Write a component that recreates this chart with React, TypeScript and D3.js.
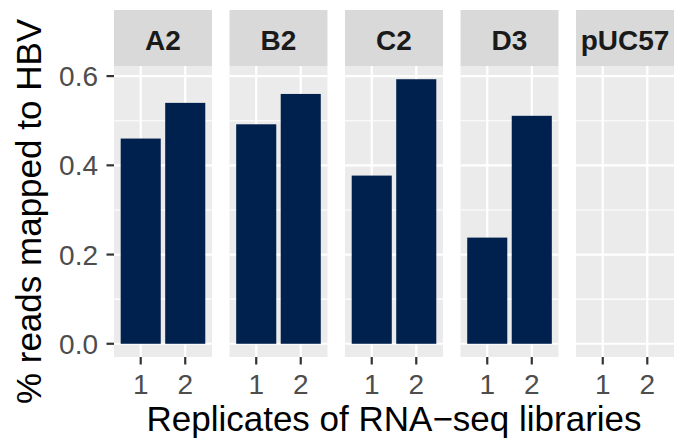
import React, { useEffect, useRef } from 'react';
import * as d3 from 'd3';

// data
const strains = ['A2', 'B2', 'C2', 'D3', 'pUC57'];
const replicates = ['1', '2'];
const rep1 = [0.46, 0.492, 0.377, 0.238, 0];
const rep2 = [0.54, 0.56, 0.593, 0.511, 0];
const yTicks = [0, 0.2, 0.4, 0.6];
const yMinor = [0.1, 0.3, 0.5];

export default function App() {
  const ref = useRef<SVGSVGElement>(null);

  useEffect(() => {
    if (!ref.current) return;
    const width = 675;
    const height = 446;
    const panelTop = 66;
    const panelBottom = 357;
    const stripTop = 10;

    const svg = d3.select(ref.current);
    svg.selectAll('*').remove();
    svg.attr('width', width).attr('height', height);
    svg.append('rect').attr('width', width).attr('height', height).attr('fill', 'white');

    const font = '"Liberation Sans", Arial, sans-serif';

    // facets
    const fx = d3.scaleBand().domain(strains).range([114, 674]).paddingInner(0.152);

    const maxVal = d3.max([...rep1, ...rep2]) as number;
    const yScale = d3.scaleLinear()
      .domain([-maxVal * 0.05, maxVal * 1.05])
      .range([panelBottom, panelTop]);

    const pw = fx.bandwidth();
    // ggplot style discrete expansion: 0.6 units on each side
    const xScale = d3.scaleLinear().domain([0.4, 2.6]).range([0, pw]);

    strains.forEach((s, i) => {
      const g = svg.append('g').attr('transform', `translate(${fx(s)},0)`);
      // strip
      g.append('rect')
        .attr('x', 0).attr('y', stripTop)
        .attr('width', pw).attr('height', panelTop - stripTop)
        .attr('fill', '#D9D9D9');
      g.append('text')
        .attr('x', pw / 2).attr('y', 49.5)
        .attr('text-anchor', 'middle')
        .attr('font-family', font)
        .attr('font-weight', 'bold')
        .attr('font-size', 28)
        .attr('fill', '#1A1A1A')
        .text(s);
      // panel
      g.append('rect')
        .attr('x', 0).attr('y', panelTop)
        .attr('width', pw).attr('height', panelBottom - panelTop)
        .attr('fill', '#EBEBEB');
      g.selectAll('line.minor')
        .data(yMinor)
        .enter().append('line')
        .attr('x1', 0).attr('x2', pw)
        .attr('y1', d => yScale(d)).attr('y2', d => yScale(d))
        .attr('stroke', 'white').attr('stroke-width', 1.1);
      g.selectAll('line.major')
        .data(yTicks)
        .enter().append('line')
        .attr('x1', 0).attr('x2', pw)
        .attr('y1', d => yScale(d)).attr('y2', d => yScale(d))
        .attr('stroke', 'white').attr('stroke-width', 2.2);
      g.selectAll('line.vmajor')
        .data(replicates)
        .enter().append('line')
        .attr('x1', (d, j) => xScale(j + 1)).attr('x2', (d, j) => xScale(j + 1))
        .attr('y1', panelTop).attr('y2', panelBottom)
        .attr('stroke', 'white').attr('stroke-width', 2.2);

      // bars
      const vals = [rep1[i], rep2[i]];
      g.selectAll('rect.bar')
        .data(vals.map((v, j) => ({ v, j })).filter(d => d.v > 0))
        .enter().append('rect')
        .attr('x', d => xScale(d.j + 1 - 0.45))
        .attr('width', xScale(1.45) - xScale(0.55))
        .attr('y', d => yScale(d.v))
        .attr('height', d => yScale(0) - yScale(d.v))
        .attr('fill', '#00204D');

      // x axis
      const xa = g.append('g').attr('transform', `translate(0,${panelBottom})`);
      replicates.forEach((r, j) => {
        const x = xScale(j + 1);
        xa.append('line')
          .attr('x1', x).attr('x2', x).attr('y1', 0).attr('y2', 7.5)
          .attr('stroke', '#333333').attr('stroke-width', 2.2);
        xa.append('text')
          .attr('x', x).attr('y', 36.5)
          .attr('text-anchor', 'middle')
          .attr('font-family', font)
          .attr('font-size', 28)
          .attr('fill', '#4D4D4D')
          .text(r);
      });
    });

    // y axis
    const left = fx(strains[0]) as number;
    const ya = svg.append('g');
    yTicks.forEach(t => {
      ya.append('line')
        .attr('x1', left - 7.5).attr('x2', left)
        .attr('y1', yScale(t)).attr('y2', yScale(t))
        .attr('stroke', '#333333').attr('stroke-width', 2.2);
      ya.append('text')
        .attr('x', left - 16).attr('y', yScale(t) + 10)
        .attr('text-anchor', 'end')
        .attr('font-family', font)
        .attr('font-size', 28)
        .attr('fill', '#4D4D4D')
        .text(d3.format('.1f')(t));
    });

    // axis titles
    svg.append('text')
      .attr('x', (114 + 674) / 2).attr('y', 431)
      .attr('text-anchor', 'middle')
      .attr('font-family', font)
      .attr('font-size', 35)
      .attr('fill', 'black')
      .text('Replicates of RNA\u2212seq libraries');
    svg.append('text')
      .attr('transform', `translate(41,${(panelTop + panelBottom) / 2}) rotate(-90)`)
      .attr('text-anchor', 'middle')
      .attr('font-family', font)
      .attr('font-size', 35)
      .attr('fill', 'black')
      .text('% reads mapped to HBV');
  }, []);

  return (
    <div style={{ position: 'absolute', left: 0, top: 0 }}>
      <svg ref={ref} width={675} height={446} style={{ display: 'block' }} />
    </div>
  );
}
